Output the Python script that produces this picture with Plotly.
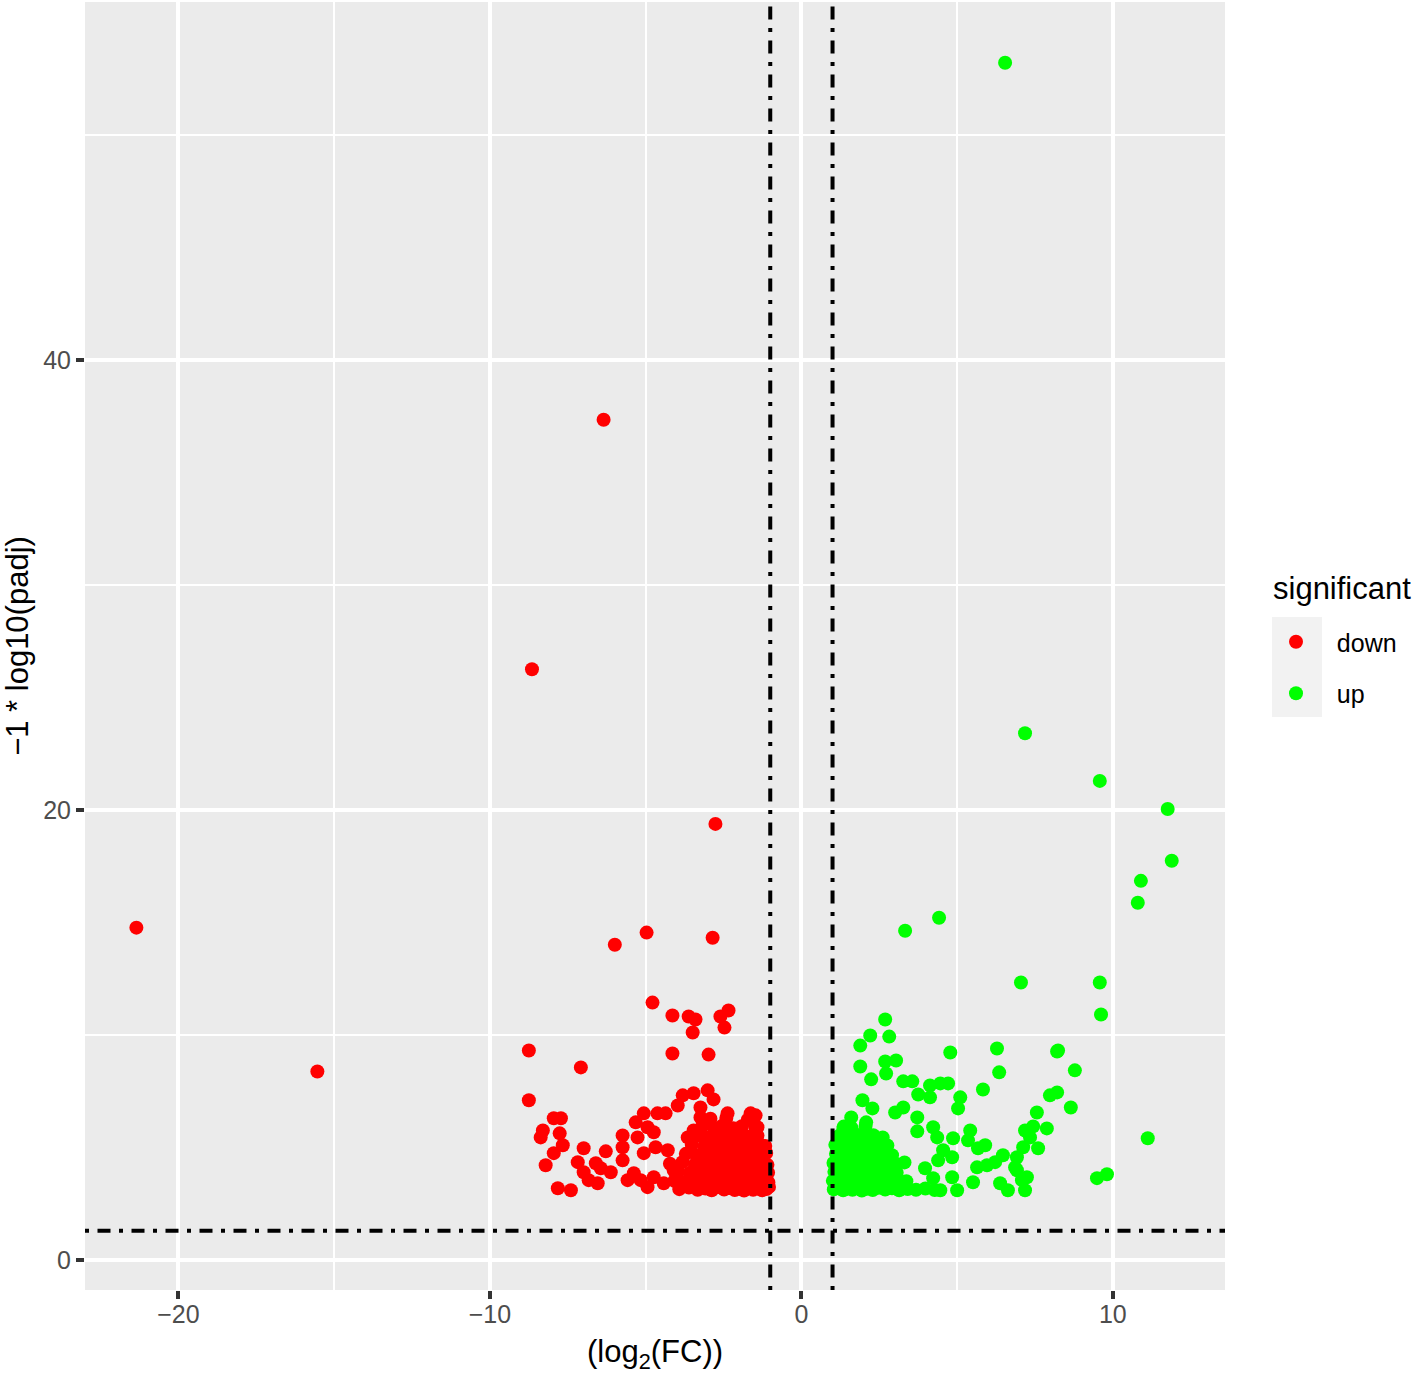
import plotly.graph_objects as go

# ---- data ----
# significant == "down"
down_log2fc = [
    -21.35, -15.54, -6.35, -8.65, -2.76, -5.99, -4.97, -2.85, -4.78, -8.75, -7.08, -8.75,
    -4.14, -3.62, -3.40, -3.49, -2.60, -2.34, -2.47, -4.14, -2.98,
    -7.95, -7.72, -8.30, -8.37, -7.76, -7.66, -7.95, -8.21, -6.99, -6.28, -7.18, -6.60,
    -6.99, -6.83, -6.54, -7.82, -7.40, -6.12, -5.74, -5.74, -5.74, -5.32, -5.06, -4.62,
    -4.36, -5.26, -4.74, -4.94, -5.06, -4.68, -4.29, -5.58, -5.38, -5.16, -4.94, -4.74,
    -4.42, -4.10, -3.78, -3.65, -3.46, -6.44,
    -3.92, -3.61, -3.33, -3.08, -2.88, -2.69, -2.48, -2.31, -2.14, -1.99, -1.84, -1.69,
    -1.55, -1.41, -1.26, -1.12, -1.04,
    -4.08, -3.74, -3.46, -3.21, -2.97, -2.76, -2.56, -2.37, -2.21, -2.04, -1.91, -1.76,
    -1.61, -1.46, -1.31, -1.17, -1.06,
    -3.95, -3.57, -3.31, -3.06, -2.84, -2.62, -2.42, -2.26, -2.09, -1.96, -1.81, -1.66,
    -1.51, -1.36, -1.21, -1.07,
    -4.22, -3.82, -3.42, -3.16, -2.91, -2.71, -2.52, -2.31, -2.13, -1.97, -1.83, -1.68,
    -1.53, -1.39, -1.23, -1.09,
    -3.71, -3.36, -3.02, -2.79, -2.56, -2.36, -2.17, -2.01, -1.86, -1.71, -1.56, -1.42,
    -1.27, -1.13,
    -3.52, -3.12, -2.86, -2.62, -2.41, -2.21, -2.03, -1.87, -1.72, -1.51, -1.32, -1.16,
    -3.31, -3.01, -2.74, -2.51, -2.29, -2.06, -1.86, -1.62, -1.41,
    -3.19, -2.81, -2.54, -2.19, -1.91, -1.48, -1.41,
    -2.92, -2.41, -1.72, -2.37, -1.63, -1.47,
    -3.97, -3.81, -3.46, -3.01, -2.82, -3.24, -3.24,
]
down_score = [
    14.77, 8.38, 37.34, 26.25, 19.38, 14.01, 14.55, 14.32, 11.44, 9.31, 8.56, 7.10,
    10.87, 10.82, 10.69, 10.11, 10.82, 11.09, 10.33, 9.18, 9.13,
    6.30, 6.30, 5.76, 5.45, 5.63, 5.10, 4.75, 4.21, 4.97, 4.83, 4.35, 4.30,
    3.90, 3.55, 3.41, 3.19, 3.10, 3.90, 5.54, 5.01, 4.43, 6.12, 6.52, 6.52,
    6.52, 5.45, 5.68, 5.90, 4.75, 5.01, 4.88, 3.55, 3.86, 3.55, 3.24, 3.68,
    3.41, 3.99, 3.41, 5.45, 5.76, 4.08,
    3.15, 3.22, 3.12, 3.18, 3.10, 3.24, 3.13, 3.20, 3.11, 3.17, 3.09, 3.22,
    3.12, 3.19, 3.10, 3.16, 3.25,
    3.52, 3.47, 3.58, 3.44, 3.55, 3.49, 3.60, 3.46, 3.54, 3.42, 3.58, 3.50,
    3.44, 3.57, 3.48, 3.56, 3.45,
    3.93, 3.88, 3.97, 3.85, 3.95, 3.90, 3.99, 3.86, 3.94, 3.83, 3.98, 3.89,
    3.95, 3.84, 3.93, 3.88,
    4.28, 4.35, 4.25, 4.38, 4.30, 4.22, 4.36, 4.27, 4.40, 4.24, 4.33, 4.26,
    4.37, 4.29, 4.34, 4.23,
    4.72, 4.66, 4.78, 4.68, 4.75, 4.64, 4.77, 4.69, 4.74, 4.63, 4.79, 4.70,
    4.65, 4.76,
    5.12, 5.05, 5.16, 5.08, 5.19, 5.04, 5.14, 5.09, 5.18, 5.06, 5.13, 5.07,
    5.52, 5.45, 5.58, 5.48, 5.55, 5.46, 5.57, 5.49, 5.53,
    5.93, 5.88, 5.97, 5.86, 5.95, 5.90, 5.90,
    6.28, 6.31, 6.24, 6.52, 6.52, 6.43,
    6.87, 7.32, 7.41, 7.54, 7.14, 6.78, 6.34,
]

# significant == "up"
up_log2fc = [
    6.54, 7.18, 9.58, 11.76, 11.89, 10.90, 10.80, 7.05, 9.58, 9.62, 8.24, 3.33, 4.42,
    2.69, 2.21, 2.82, 1.89, 4.78, 6.28, 8.21, 8.78, 6.35, 2.69, 3.04, 1.89, 2.72, 2.24,
    3.27, 3.56, 4.13, 4.46, 4.71, 3.75, 4.13, 5.10, 5.03, 5.83, 7.98, 8.21, 8.65, 7.56,
    1.96, 2.28, 3.27, 3.01, 1.60, 3.72, 2.08, 1.35, 3.72, 4.23, 4.36, 4.87, 5.42, 5.35,
    5.67, 5.90, 7.18, 7.44, 7.88, 7.12, 7.60, 4.55, 4.84, 4.39, 3.97, 5.64, 5.96, 6.22,
    6.47, 6.92, 6.86, 7.24, 7.18, 6.38, 6.63, 5.51, 4.23, 4.84, 5.00, 4.46, 6.92, 7.08,
    9.49, 9.81, 11.12, 7.34,
    1.04, 1.19, 1.34, 1.49, 1.64, 1.79, 1.94, 2.11, 2.29, 2.48, 2.69, 2.91, 3.14, 3.41,
    3.68, 3.98, 4.28,
    1.01, 1.13, 1.26, 1.41, 1.56, 1.71, 1.86, 2.02, 2.21, 2.41, 2.62, 2.86, 3.11, 3.37,
    1.06, 1.19, 1.33, 1.49, 1.63, 1.79, 1.96, 2.16, 2.36, 2.57, 2.81, 3.06,
    1.03, 1.16, 1.31, 1.46, 1.61, 1.76, 1.93, 2.11, 2.31, 2.52, 2.76, 3.01, 3.31,
    1.11, 1.26, 1.43, 1.59, 1.76, 1.96, 2.16, 2.41, 2.66, 2.91,
    1.09, 1.26, 1.46, 1.66, 1.91, 2.16, 2.46, 2.76,
    1.21, 1.46, 1.76, 2.01, 2.31, 2.61,
    1.36, 1.61, 2.06,
]
up_score = [
    53.20, 23.41, 21.29, 20.04, 17.74, 16.85, 15.88, 12.33, 12.33, 10.91, 9.31, 14.63, 15.21,
    10.69, 9.98, 9.93, 9.53, 9.22, 9.40, 9.27, 8.43, 8.34, 8.82, 8.87, 8.60, 8.29, 8.03,
    7.94, 7.94, 7.76, 7.85, 7.85, 7.36, 7.23, 7.23, 6.74, 7.58, 7.32, 7.45, 6.78, 6.56,
    7.10, 6.74, 6.78, 6.56, 6.34, 6.34, 6.12, 5.85, 5.72, 5.90, 5.45, 5.41, 5.76, 5.32,
    4.97, 5.10, 5.76, 5.94, 5.85, 5.01, 4.97, 4.88, 4.57, 4.43, 4.08, 4.12, 4.21, 4.35,
    4.66, 4.57, 4.12, 3.68, 3.10, 3.41, 3.10, 3.46, 3.64, 3.68, 3.10, 3.10, 3.99, 3.55,
    3.64, 3.81, 5.41, 5.45,
    3.14, 3.22, 3.10, 3.18, 3.12, 3.24, 3.09, 3.17, 3.11, 3.21, 3.13, 3.19, 3.10, 3.16,
    3.12, 3.18, 3.11,
    3.52, 3.45, 3.58, 3.47, 3.55, 3.43, 3.57, 3.49, 3.54, 3.44, 3.58, 3.47, 3.55, 3.50,
    3.92, 3.85, 3.97, 3.88, 3.94, 3.84, 3.98, 3.89, 3.95, 3.86, 3.93, 3.88,
    4.31, 4.24, 4.37, 4.27, 4.35, 4.23, 4.38, 4.28, 4.33, 4.25, 4.36, 4.29, 4.34,
    4.72, 4.65, 4.78, 4.68, 4.75, 4.64, 4.77, 4.69, 4.74, 4.66,
    5.12, 5.05, 5.16, 5.07, 5.14, 5.04, 5.17, 5.09,
    5.52, 5.46, 5.57, 5.48, 5.55, 5.45,
    5.93, 5.87, 5.96,
]

group_names = ["down", "up"]

fc_cutoff = [-1, 1]
padj_cutoff_score = 1.30103   # -log10(0.05)

x_ticks = [-20, -10, 0, 10]
y_ticks = [0, 20, 40]

FONT = "Liberation Sans, Arial, sans-serif"
DASH = "4px,8.5px,13px,8.5px"

W, H = 1416, 1374
ML, MR, MT, MB = 85, 191, 2, 84
PW, PH = W - ML - MR, H - MT - MB


def px_x(px):
    return (px - ML) / PW


def px_y(py):
    return 1 - (py - MT) / PH


PAD = "\u00a0\u00a0\u00a0"   # spacing between legend key and its label

fig = go.Figure()
fig.add_trace(go.Scatter(
    x=down_log2fc, y=down_score, mode="markers", name=PAD + group_names[0],
    legendgroup=group_names[0],
    marker=dict(color="#FF0000", size=14, line=dict(width=0)),
))
fig.add_trace(go.Scatter(
    x=up_log2fc, y=up_score, mode="markers", name=PAD + group_names[1],
    legendgroup=group_names[1],
    marker=dict(color="#00FF00", size=14, line=dict(width=0)),
))

for xc in fc_cutoff:
    fig.add_shape(type="line", xref="x", yref="paper", x0=xc, x1=xc, y0=0, y1=1,
                  line=dict(color="black", width=4, dash=DASH), layer="above")
fig.add_shape(type="line", xref="paper", yref="y", x0=0, x1=1,
              y0=padj_cutoff_score, y1=padj_cutoff_score,
              line=dict(color="black", width=4, dash=DASH), layer="above")

# legend key background
fig.add_shape(type="rect", xref="paper", yref="paper",
              x0=px_x(1272), x1=px_x(1322), y0=px_y(717), y1=px_y(617),
              line=dict(width=0), fillcolor="#F2F2F2", layer="below")

# legend title
fig.add_annotation(text="significant", xref="paper", yref="paper",
                   x=px_x(1271), y=px_y(588), xanchor="left", yanchor="middle",
                   showarrow=False, font=dict(family=FONT, size=31, color="black"))

axis_common = dict(
    showgrid=True, gridcolor="white", gridwidth=4, zeroline=False,
    showline=False, ticks="outside", ticklen=8, tickwidth=3.5, tickcolor="#333333",
    tickfont=dict(family=FONT, size=25, color="#4D4D4D"),
)

fig.update_xaxes(
    range=[-23.0, 13.6], tickvals=x_ticks, **axis_common,
    ticklabelstandoff=-6,
    minor=dict(dtick=5, tick0=0, showgrid=True, gridcolor="white", gridwidth=2, ticks=""),
    title=dict(text="(log<sub>2</sub>(FC))", font=dict(family=FONT, size=31, color="black"),
               standoff=14),
)
fig.update_yaxes(
    range=[-1.33, 55.9], tickvals=y_ticks, **axis_common,
    minor=dict(dtick=10, tick0=0, showgrid=True, gridcolor="white", gridwidth=2, ticks=""),
    title=dict(text="\u22121 * log10(padj)", font=dict(family=FONT, size=31, color="black"),
               standoff=10),
)

fig.update_layout(
    width=W, height=H,
    margin=dict(l=ML, r=MR, t=MT, b=MB, autoexpand=False),
    paper_bgcolor="white", plot_bgcolor="#EBEBEB",
    font=dict(family=FONT),
    legend=dict(
        font=dict(family=FONT, size=25, color="black"),
        x=px_x(1276), xanchor="left",
        y=px_y(619), yanchor="top",
        bgcolor="rgba(0,0,0,0)", itemsizing="trace",
        itemwidth=30, tracegroupgap=16,
    ),
    showlegend=True,
)

fig.write_html("out.html", config={"displayModeBar": False},
               post_script="document.body.style.margin='0px';")
